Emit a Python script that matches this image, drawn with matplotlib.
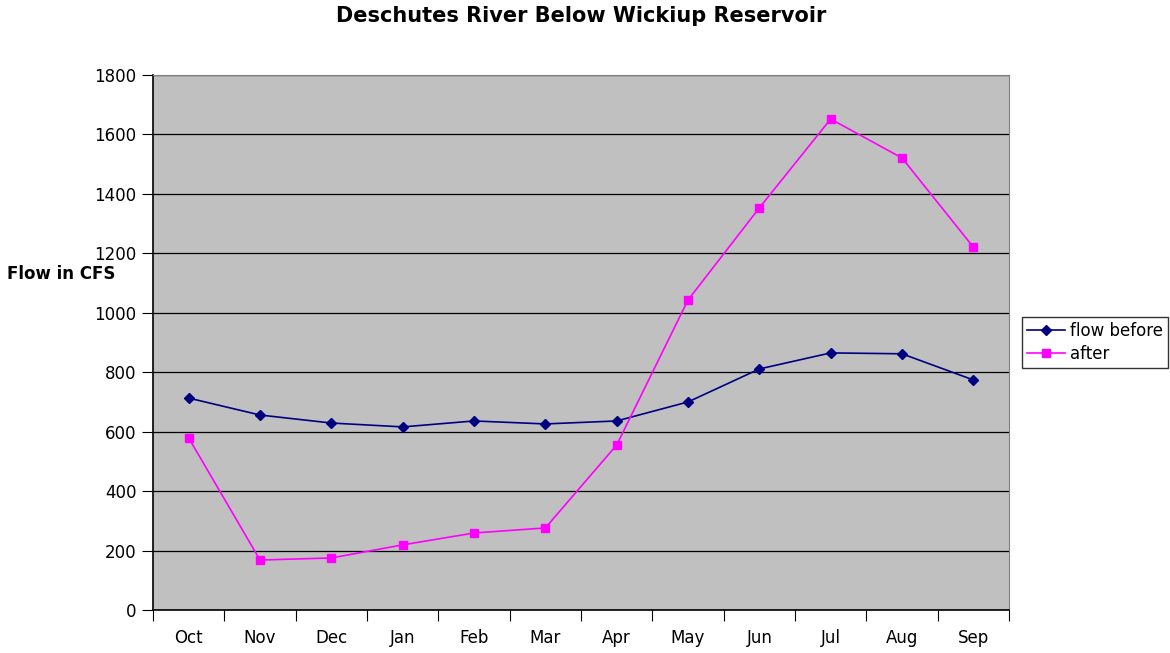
import numpy as np
import matplotlib.pyplot as plt

months = ['Oct', 'Nov', 'Dec', 'Jan', 'Feb', 'Mar', 'Apr', 'May', 'Jun', 'Jul', 'Aug', 'Sep']
flow_before = [713, 656, 629, 616, 636, 626, 636, 700, 811, 865, 862, 774]
flow_after = [579, 168, 175, 219, 259, 276, 555, 1043, 1353, 1652, 1521, 1221]
y_ticks = [0, 200, 400, 600, 800, 1000, 1200, 1400, 1600, 1800]

fig = plt.figure(figsize=(11.7, 6.53), dpi=100)
ax = fig.add_axes([0.1308, 0.0659, 0.7316, 0.8192])
ax.set_facecolor('#c0c0c0')

x = np.arange(len(months))
ax.plot(x, flow_before, color='#000080', marker='D', markersize=5, linewidth=1.2, label='flow before')
ax.plot(x, flow_after, color='#ff00ff', marker='s', markersize=6, linewidth=1.2, label='after')

ax.set_xlim(-0.5, len(months) - 0.5)
ax.set_ylim(0, 1800)
ax.set_yticks(y_ticks)
ax.yaxis.grid(True, color='black', linewidth=0.9)
ax.set_axisbelow(True)

# ticks at category boundaries, labels in the middle
ax.set_xticks(np.arange(-0.5, len(months), 1.0))
ax.set_xticklabels([])
ax.set_xticks(x, minor=True)
ax.set_xticklabels(months, minor=True)
ax.tick_params(axis='x', which='major', direction='out', length=8, color='black')
ax.tick_params(axis='x', which='minor', length=0, pad=14, labelsize=12)
ax.tick_params(axis='y', direction='out', length=8, labelsize=12, pad=4)

for side in ['top', 'right']:
    ax.spines[side].set_color('#808080')
for side in ['left', 'bottom']:
    ax.spines[side].set_color('black')
    ax.spines[side].set_linewidth(1.2)

fig.text(0.497, 0.975, 'Deschutes River Below Wickiup Reservoir', ha='center', va='center',
         fontsize=15, fontweight='bold')
fig.text(0.006, 0.58, 'Flow in CFS', ha='left', va='center', fontsize=12, fontweight='bold')

leg = ax.legend(loc='center left', bbox_to_anchor=(1.015, 0.5), fontsize=12, frameon=True,
                fancybox=False, edgecolor='black', borderpad=0.3, handlelength=2.3,
                handletextpad=0.3, labelspacing=0.3, borderaxespad=0)
leg.get_frame().set_linewidth(1.0)

fig.savefig('out.png', dpi=100)
